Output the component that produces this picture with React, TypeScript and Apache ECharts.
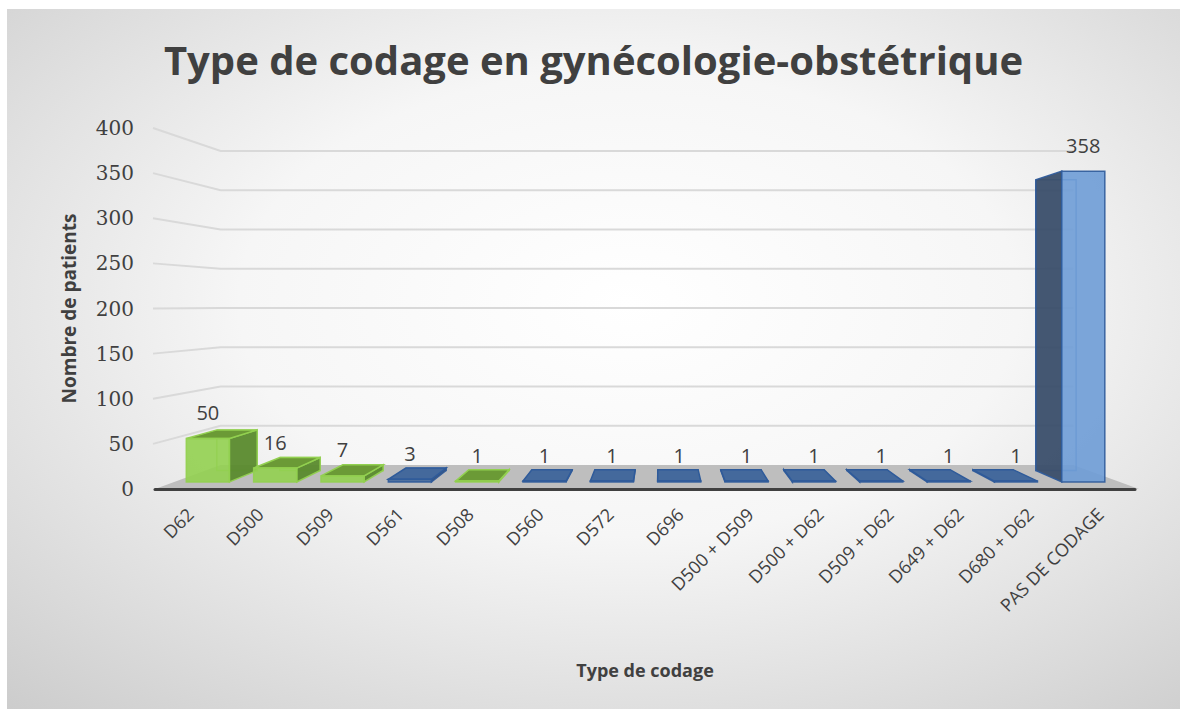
import React, { useEffect, useRef } from "react";
import * as echarts from "echarts";

// ---------- data ----------
const categories = [
  "D62",
  "D500",
  "D509",
  "D561",
  "D508",
  "D560",
  "D572",
  "D696",
  "D500 + D509",
  "D500 + D62",
  "D509 + D62",
  "D649 + D62",
  "D680 + D62",
  "PAS DE CODAGE",
];
const patientCounts = [50, 16, 7, 3, 1, 1, 1, 1, 1, 1, 1, 1, 1, 358];
const colorGroups = [
  "green",
  "green",
  "green",
  "blue",
  "green",
  "blue",
  "blue",
  "blue",
  "blue",
  "blue",
  "blue",
  "blue",
  "blue",
  "blue",
];
const yTicks = [0, 50, 100, 150, 200, 250, 300, 350, 400];

const TITLE = "Type de codage en gynécologie-obstétrique";
const Y_NAME = "Nombre de patients";
const X_NAME = "Type de codage";

// ---------- 3D look (perspective) ----------
const VP_X_FRAC = 0.515; // vanishing point x as fraction of plot width
const VP_VALUE = 205; // vanishing point height, in axis units
const S_WALL = 0.87; // scale of the back wall
const S_BAR_FRONT = 0.962;
const S_BAR_BACK = 0.9;
const BAR_HALF = 0.32;

const palette: Record<string, any> = {
  green: { front: "#92d050", top: "#6b9a36", side: "#5a8a2d", stroke: "#92d050", hidden: "#92d050" },
  blue: { front: "#6e9cd6", top: "#44699c", side: "#3a4e6a", stroke: "#2f5b9a", hidden: "#4a78b8" },
};

function makeProjector(api: any, cs: any) {
  const vx = cs.x + cs.width * VP_X_FRAC;
  const vy = api.coord([0, VP_VALUE])[1];
  return (x: number, y: number, s: number) => [vx + s * (x - vx), vy + s * (y - vy)];
}

export default function App() {
  const ref = useRef<HTMLDivElement>(null);

  useEffect(() => {
    if (!ref.current) return;
    const chart = echarts.init(ref.current, undefined, { renderer: "svg" });

    const option: any = {
      animation: false,
      backgroundColor: new echarts.graphic.RadialGradient(0.53, 0.42, 0.95, [
        { offset: 0, color: "#ffffff" },
        { offset: 0.35, color: "#f6f6f6" },
        { offset: 1, color: "#bdbdbd" },
      ]),
      title: {
        text: TITLE,
        left: "center",
        top: 25,
        textStyle: {
          fontFamily: "Open Sans",
          fontWeight: "bold",
          fontSize: 40,
          color: "#404040",
        },
      },
      grid: { left: 148, top: 119, width: 980, height: 361 },
      xAxis: {
        type: "category",
        data: categories,
        z: 5,
        axisTick: { show: false },
        axisLine: { show: true, lineStyle: { color: "#404040", width: 3 } },
        axisLabel: {
          interval: 0,
          rotate: 45,
          margin: 22,
          fontFamily: "Open Sans",
          fontSize: 18,
          color: "#404040",
        },
        splitLine: { show: false },
        name: X_NAME,
        nameLocation: "middle",
        nameGap: 172,
        nameTextStyle: {
          fontFamily: "Open Sans",
          fontWeight: "bold",
          fontSize: 18,
          color: "#404040",
        },
      },
      yAxis: {
        type: "value",
        min: 0,
        max: 400,
        interval: 50,
        axisLine: { show: false },
        axisTick: { show: false },
        splitLine: { show: false },
        axisLabel: {
          margin: 21,
          fontFamily: "DejaVu Serif",
          fontSize: 20,
          color: "#404040",
        },
        name: Y_NAME,
        nameLocation: "middle",
        nameGap: 77,
        nameTextStyle: {
          fontFamily: "Open Sans",
          fontWeight: "bold",
          fontSize: 19,
          color: "#404040",
        },
      },
      series: [
        // floor
        {
          type: "custom",
          z: 1,
          silent: true,
          data: [[0, 0]],
          renderItem: (params: any, api: any) => {
            const cs = params.coordSys;
            const P = makeProjector(api, cs);
            const y0 = api.coord([0, 0])[1];
            const xl = cs.x;
            const xr = cs.x + cs.width;
            return {
              type: "polygon",
              shape: { points: [[xl, y0], [xr + 4, y0], P(xr, y0, S_WALL), P(xl, y0, S_WALL)] },
              style: { fill: "#bebebe", stroke: "none" },
            };
          },
        },
        // back & side wall gridlines
        {
          type: "custom",
          z: 1,
          silent: true,
          data: yTicks.filter((v) => v > 0).map((v) => [0, v]),
          renderItem: (params: any, api: any) => {
            const cs = params.coordSys;
            const P = makeProjector(api, cs);
            const yf = api.coord([0, api.value(1)])[1];
            const b = P(cs.x, yf, S_WALL);
            const r = P(cs.x + cs.width, yf, S_WALL);
            return {
              type: "polyline",
              shape: { points: [[cs.x - 2, yf], b, r] },
              style: { stroke: "#d9d9d9", lineWidth: 2, fill: "none" },
            };
          },
        },
        // 3D bars
        {
          type: "custom",
          z: 3,
          data: patientCounts.map((v, i) => [i, v]),
          renderItem: (params: any, api: any) => {
            const cs = params.coordSys;
            const P = makeProjector(api, cs);
            const i = api.value(0);
            const v = api.value(1);
            const c = palette[colorGroups[params.dataIndex]];
            const [cx, yTop] = api.coord([i, v]);
            const yBase = api.coord([i, 0])[1];
            const band = api.size([1, 0])[0];
            const hw = band * BAR_HALF;
            const xl = cx - hw;
            const xr = cx + hw;
            const sf = S_BAR_FRONT;
            const sb = S_BAR_BACK;
            const fTL = P(xl, yTop, sf), fTR = P(xr, yTop, sf), fBR = P(xr, yBase, sf), fBL = P(xl, yBase, sf);
            const bTL = P(xl, yTop, sb), bTR = P(xr, yTop, sb), bBR = P(xr, yBase, sb), bBL = P(xl, yBase, sb);
            const vx = cs.x + cs.width * VP_X_FRAC;
            const vy = api.coord([0, VP_VALUE])[1];
            const children: any[] = [];
            // hidden back edges (seen through the translucent faces)
            children.push({
              type: "polyline",
              shape: { points: [bTL, bTR, bBR, bBL, bTL] },
              style: { stroke: c.hidden, lineWidth: 1.5, fill: "none", opacity: 0.8 },
            });
            // side face
            const side = cx < vx ? [fTR, bTR, bBR, fBR] : [fTL, bTL, bBL, fBL];
            children.push({
              type: "polygon",
              shape: { points: side },
              style: { fill: c.side, stroke: c.stroke, lineWidth: 1.5, opacity: 0.95 },
            });
            // top face
            if (yTop > vy) {
              children.push({
                type: "polygon",
                shape: { points: [fTL, fTR, bTR, bTL] },
                style: { fill: c.top, stroke: c.stroke, lineWidth: 1.5 },
              });
            }
            // front face
            children.push({
              type: "polygon",
              shape: { points: [fTL, fTR, fBR, fBL] },
              style: { fill: v < 5 ? c.top : c.front, stroke: c.stroke, lineWidth: 1.5, opacity: 0.9 },
            });
            // value label
            children.push({
              type: "text",
              x: (fTL[0] + fTR[0]) / 2,
              y: fTL[1] - 26,
              style: {
                text: String(v),
                fill: "#404040",
                fontFamily: "Open Sans",
                fontSize: 20,
                align: "center",
                verticalAlign: "middle",
              },
            });
            return { type: "group", children };
          },
        },
      ],
    };

    chart.setOption(option);
    return () => chart.dispose();
  }, []);

  return (
    <div
      ref={ref}
      style={{ position: "absolute", left: 7, top: 9, width: 1173, height: 700 }}
    />
  );
}
